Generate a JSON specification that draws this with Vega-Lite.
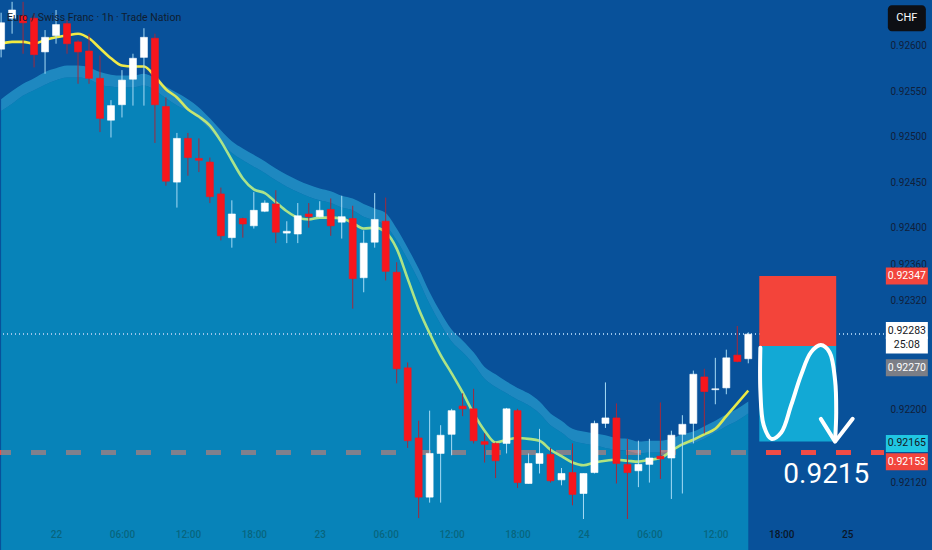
{
  "$schema": "https://vega.github.io/schema/vega-lite/v6.json",
  "width": 884,
  "height": 519,
  "autosize": {"type": "none"},
  "padding": {"left": 0, "top": 0, "right": 48, "bottom": 31},
  "background": "#08519a",
  "title": {
    "text": "Euro / Swiss Franc · 1h · Trade Nation",
    "anchor": "start",
    "frame": "group",
    "orient": "top",
    "offset": -23,
    "dx": 7,
    "fontSize": 10.5,
    "fontWeight": "normal",
    "color": "#101d30"
  },
  "data": {
    "values": [
      {"t": -5, "open": 0.92596, "high": 0.92636, "low": 0.92587, "close": 0.92625, "ma": 0.92602, "upper": 0.92541, "inner": 0.92528},
      {"t": -4, "open": 0.9263, "high": 0.92648, "low": 0.92613, "close": 0.92639, "ma": 0.92604, "upper": 0.9255, "inner": 0.92536},
      {"t": -3, "open": 0.92633, "high": 0.92648, "low": 0.92591, "close": 0.92625, "ma": 0.92604, "upper": 0.92558, "inner": 0.92545},
      {"t": -2, "open": 0.9263, "high": 0.92635, "low": 0.92576, "close": 0.9259, "ma": 0.92602, "upper": 0.92564, "inner": 0.92551},
      {"t": -1, "open": 0.92593, "high": 0.92617, "low": 0.92569, "close": 0.92609, "ma": 0.92606, "upper": 0.92571, "inner": 0.92557},
      {"t": 0, "open": 0.92611, "high": 0.92639, "low": 0.92602, "close": 0.92623, "ma": 0.92609, "upper": 0.92575, "inner": 0.92562},
      {"t": 1, "open": 0.92624, "high": 0.92628, "low": 0.92591, "close": 0.92602, "ma": 0.92611, "upper": 0.92578, "inner": 0.92565},
      {"t": 2, "open": 0.92604, "high": 0.92606, "low": 0.92558, "close": 0.92593, "ma": 0.92613, "upper": 0.92578, "inner": 0.92565},
      {"t": 3, "open": 0.92594, "high": 0.92613, "low": 0.92558, "close": 0.92564, "ma": 0.92608, "upper": 0.92576, "inner": 0.92563},
      {"t": 4, "open": 0.92564, "high": 0.92589, "low": 0.92505, "close": 0.9252, "ma": 0.92597, "upper": 0.92571, "inner": 0.92557},
      {"t": 5, "open": 0.92518, "high": 0.9254, "low": 0.92499, "close": 0.92534, "ma": 0.92586, "upper": 0.92568, "inner": 0.92555},
      {"t": 6, "open": 0.92535, "high": 0.92573, "low": 0.92521, "close": 0.92562, "ma": 0.92578, "upper": 0.92567, "inner": 0.92554},
      {"t": 7, "open": 0.92563, "high": 0.92591, "low": 0.92534, "close": 0.92586, "ma": 0.92577, "upper": 0.92567, "inner": 0.92554},
      {"t": 8, "open": 0.92587, "high": 0.92619, "low": 0.92534, "close": 0.92609, "ma": 0.92577, "upper": 0.92569, "inner": 0.92556},
      {"t": 9, "open": 0.92608, "high": 0.92613, "low": 0.92493, "close": 0.92535, "ma": 0.92566, "upper": 0.92564, "inner": 0.92551},
      {"t": 10, "open": 0.92533, "high": 0.92543, "low": 0.92446, "close": 0.92451, "ma": 0.92552, "upper": 0.92555, "inner": 0.92542},
      {"t": 11, "open": 0.9245, "high": 0.92504, "low": 0.92422, "close": 0.92498, "ma": 0.92543, "upper": 0.92548, "inner": 0.92534},
      {"t": 12, "open": 0.92498, "high": 0.92504, "low": 0.92457, "close": 0.92477, "ma": 0.9253, "upper": 0.92541, "inner": 0.92528},
      {"t": 13, "open": 0.92476, "high": 0.92498, "low": 0.92461, "close": 0.92474, "ma": 0.92522, "upper": 0.92532, "inner": 0.92519},
      {"t": 14, "open": 0.92472, "high": 0.92477, "low": 0.92427, "close": 0.92434, "ma": 0.92512, "upper": 0.9252, "inner": 0.92507},
      {"t": 15, "open": 0.92437, "high": 0.92444, "low": 0.92386, "close": 0.92391, "ma": 0.92495, "upper": 0.92507, "inner": 0.92494},
      {"t": 16, "open": 0.92389, "high": 0.9243, "low": 0.92378, "close": 0.92415, "ma": 0.92474, "upper": 0.92495, "inner": 0.92482},
      {"t": 17, "open": 0.9241, "high": 0.92411, "low": 0.92389, "close": 0.92404, "ma": 0.92454, "upper": 0.92487, "inner": 0.92474},
      {"t": 18, "open": 0.92402, "high": 0.92439, "low": 0.92399, "close": 0.92419, "ma": 0.92442, "upper": 0.9248, "inner": 0.92467},
      {"t": 19, "open": 0.92418, "high": 0.9243, "low": 0.92417, "close": 0.92427, "ma": 0.92438, "upper": 0.92473, "inner": 0.9246},
      {"t": 20, "open": 0.92426, "high": 0.92441, "low": 0.92383, "close": 0.92395, "ma": 0.92428, "upper": 0.92465, "inner": 0.92452},
      {"t": 21, "open": 0.92394, "high": 0.92407, "low": 0.92383, "close": 0.92396, "ma": 0.92418, "upper": 0.92458, "inner": 0.92445},
      {"t": 22, "open": 0.92393, "high": 0.92427, "low": 0.92383, "close": 0.92413, "ma": 0.92411, "upper": 0.92452, "inner": 0.92439},
      {"t": 23, "open": 0.92415, "high": 0.92427, "low": 0.924, "close": 0.92412, "ma": 0.92409, "upper": 0.92447, "inner": 0.92434},
      {"t": 24, "open": 0.92412, "high": 0.92429, "low": 0.92411, "close": 0.92419, "ma": 0.92411, "upper": 0.92443, "inner": 0.9243},
      {"t": 25, "open": 0.9242, "high": 0.92432, "low": 0.92391, "close": 0.92402, "ma": 0.92411, "upper": 0.9244, "inner": 0.92427},
      {"t": 26, "open": 0.92406, "high": 0.92435, "low": 0.92388, "close": 0.92412, "ma": 0.9241, "upper": 0.92435, "inner": 0.92422},
      {"t": 27, "open": 0.9241, "high": 0.92424, "low": 0.92311, "close": 0.92344, "ma": 0.92405, "upper": 0.92432, "inner": 0.92419},
      {"t": 28, "open": 0.92345, "high": 0.92397, "low": 0.92329, "close": 0.92383, "ma": 0.92399, "upper": 0.92426, "inner": 0.92412},
      {"t": 29, "open": 0.92384, "high": 0.92438, "low": 0.92378, "close": 0.92409, "ma": 0.924, "upper": 0.92421, "inner": 0.92408},
      {"t": 30, "open": 0.92407, "high": 0.92433, "low": 0.92342, "close": 0.92352, "ma": 0.92395, "upper": 0.92416, "inner": 0.92402},
      {"t": 31, "open": 0.92351, "high": 0.92362, "low": 0.92229, "close": 0.92245, "ma": 0.92377, "upper": 0.92399, "inner": 0.92386},
      {"t": 32, "open": 0.92246, "high": 0.92252, "low": 0.92158, "close": 0.92166, "ma": 0.92344, "upper": 0.92378, "inner": 0.92365},
      {"t": 33, "open": 0.92169, "high": 0.92188, "low": 0.92081, "close": 0.92104, "ma": 0.92311, "upper": 0.92355, "inner": 0.92342},
      {"t": 34, "open": 0.92104, "high": 0.92199, "low": 0.92098, "close": 0.92152, "ma": 0.92284, "upper": 0.92329, "inner": 0.92316},
      {"t": 35, "open": 0.92152, "high": 0.92183, "low": 0.92098, "close": 0.92172, "ma": 0.9226, "upper": 0.92307, "inner": 0.92294},
      {"t": 36, "open": 0.92173, "high": 0.92201, "low": 0.9215, "close": 0.92199, "ma": 0.9224, "upper": 0.92288, "inner": 0.92275},
      {"t": 37, "open": 0.92204, "high": 0.92218, "low": 0.92193, "close": 0.92201, "ma": 0.92219, "upper": 0.92276, "inner": 0.92263},
      {"t": 38, "open": 0.92201, "high": 0.92223, "low": 0.92163, "close": 0.92166, "ma": 0.92196, "upper": 0.92263, "inner": 0.9225},
      {"t": 39, "open": 0.92165, "high": 0.92174, "low": 0.92142, "close": 0.92162, "ma": 0.92177, "upper": 0.92247, "inner": 0.92234},
      {"t": 40, "open": 0.92163, "high": 0.92164, "low": 0.92125, "close": 0.92144, "ma": 0.92164, "upper": 0.92239, "inner": 0.92225},
      {"t": 41, "open": 0.92163, "high": 0.92202, "low": 0.92152, "close": 0.92201, "ma": 0.92167, "upper": 0.92231, "inner": 0.92218},
      {"t": 42, "open": 0.92199, "high": 0.92201, "low": 0.92114, "close": 0.9212, "ma": 0.92169, "upper": 0.92224, "inner": 0.92211},
      {"t": 43, "open": 0.92119, "high": 0.92152, "low": 0.92119, "close": 0.92141, "ma": 0.92168, "upper": 0.92218, "inner": 0.92205},
      {"t": 44, "open": 0.92141, "high": 0.92179, "low": 0.9213, "close": 0.92152, "ma": 0.92166, "upper": 0.92209, "inner": 0.92196},
      {"t": 45, "open": 0.92151, "high": 0.92158, "low": 0.9212, "close": 0.92122, "ma": 0.92156, "upper": 0.92196, "inner": 0.92183},
      {"t": 46, "open": 0.92123, "high": 0.92136, "low": 0.92117, "close": 0.9213, "ma": 0.92149, "upper": 0.92188, "inner": 0.92175},
      {"t": 47, "open": 0.92131, "high": 0.92163, "low": 0.92095, "close": 0.92107, "ma": 0.92142, "upper": 0.92179, "inner": 0.92166},
      {"t": 48, "open": 0.92108, "high": 0.9213, "low": 0.9208, "close": 0.9213, "ma": 0.92139, "upper": 0.92176, "inner": 0.92163},
      {"t": 49, "open": 0.92131, "high": 0.92188, "low": 0.9213, "close": 0.92185, "ma": 0.92142, "upper": 0.92174, "inner": 0.92161},
      {"t": 50, "open": 0.92185, "high": 0.9223, "low": 0.9218, "close": 0.92191, "ma": 0.92144, "upper": 0.92172, "inner": 0.92158},
      {"t": 51, "open": 0.92191, "high": 0.92207, "low": 0.92119, "close": 0.92141, "ma": 0.92145, "upper": 0.92169, "inner": 0.92156},
      {"t": 52, "open": 0.9214, "high": 0.92168, "low": 0.9208, "close": 0.92131, "ma": 0.92144, "upper": 0.92168, "inner": 0.92155},
      {"t": 53, "open": 0.92133, "high": 0.92166, "low": 0.92115, "close": 0.9214, "ma": 0.92143, "upper": 0.92165, "inner": 0.92152},
      {"t": 54, "open": 0.9214, "high": 0.92168, "low": 0.9212, "close": 0.92147, "ma": 0.92145, "upper": 0.92166, "inner": 0.92153},
      {"t": 55, "open": 0.92149, "high": 0.92208, "low": 0.92124, "close": 0.92146, "ma": 0.92147, "upper": 0.92166, "inner": 0.92153},
      {"t": 56, "open": 0.92147, "high": 0.92177, "low": 0.92102, "close": 0.92172, "ma": 0.92155, "upper": 0.92168, "inner": 0.92155},
      {"t": 57, "open": 0.92173, "high": 0.92194, "low": 0.92108, "close": 0.92184, "ma": 0.92162, "upper": 0.92173, "inner": 0.9216},
      {"t": 58, "open": 0.92185, "high": 0.92243, "low": 0.92163, "close": 0.92239, "ma": 0.92167, "upper": 0.92176, "inner": 0.92163},
      {"t": 59, "open": 0.92236, "high": 0.92245, "low": 0.92174, "close": 0.9222, "ma": 0.92173, "upper": 0.92182, "inner": 0.92168},
      {"t": 60, "open": 0.92222, "high": 0.92257, "low": 0.92206, "close": 0.92223, "ma": 0.92179, "upper": 0.92188, "inner": 0.92175},
      {"t": 61, "open": 0.92224, "high": 0.92266, "low": 0.92217, "close": 0.92257, "ma": 0.92193, "upper": 0.92195, "inner": 0.92182},
      {"t": 62, "open": 0.9226, "high": 0.92292, "low": 0.92252, "close": 0.92253, "ma": 0.92207, "upper": 0.92201, "inner": 0.92188},
      {"t": 63, "open": 0.92256, "high": 0.92285, "low": 0.92251, "close": 0.92283, "ma": 0.92221, "upper": 0.92209, "inner": 0.92196}
    ]
  },
  "layer": [
    {
      "mark": {"type": "rule", "color": "#f04b46", "strokeWidth": 3.5, "strokeDash": [15, 20], "strokeDashOffset": 2},
      "encoding": {
        "y": {"datum": 0.92153, "type": "quantitative", "scale": {"domain": [0.9208, 0.9265], "nice": false, "zero": false}}
      }
    },
    {
      "mark": {"type": "area", "color": "#3fd3f6", "opacity": 0.42, "interpolate": "monotone"},
      "encoding": {
        "x": {"field": "t", "type": "quantitative", "scale": {"domain": [-5.1, 75.35], "nice": false, "zero": false}, "title": null},
        "y": {"field": "upper", "type": "quantitative", "scale": {"domain": [0.9208, 0.9265], "nice": false, "zero": false}, "title": null},
        "y2": {"field": "inner"}
      }
    },
    {
      "mark": {"type": "area", "color": "#07bbdc", "opacity": 0.48, "interpolate": "monotone"},
      "encoding": {
        "x": {"field": "t", "type": "quantitative", "scale": {"domain": [-5.1, 75.35], "nice": false, "zero": false}, "title": null},
        "y": {"field": "inner", "type": "quantitative", "scale": {"domain": [0.9208, 0.9265], "nice": false, "zero": false}, "title": null}
      }
    },
    {
      "mark": {"type": "rule", "color": "#9cc4ea", "opacity": 0.7, "strokeWidth": 1, "strokeDash": [1, 3]},
      "encoding": {
        "y": {"datum": 0.92283, "type": "quantitative", "scale": {"domain": [0.9208, 0.9265], "nice": false, "zero": false}}
      }
    },
    {
      "mark": {
        "type": "line",
        "strokeWidth": 2.6,
        "interpolate": "monotone",
        "stroke": {
          "gradient": "linear", "x1": 0, "y1": 0, "x2": 1, "y2": 0,
          "stops": [
            {"offset": 0, "color": "#f3ea3e"},
            {"offset": 0.2, "color": "#eeea4c"},
            {"offset": 0.3, "color": "#a9e38c"},
            {"offset": 0.9, "color": "#b2e47e"},
            {"offset": 1, "color": "#f1e940"}
          ]
        }
      },
      "encoding": {
        "x": {"field": "t", "type": "quantitative", "scale": {"domain": [-5.1, 75.35], "nice": false, "zero": false}, "title": null},
        "y": {"field": "ma", "type": "quantitative", "scale": {"domain": [0.9208, 0.9265], "nice": false, "zero": false}, "title": null}
      }
    },
    {
      "mark": {"type": "rule", "strokeWidth": 1},
      "encoding": {
        "x": {"field": "t", "type": "quantitative", "scale": {"domain": [-5.1, 75.35], "nice": false, "zero": false}, "title": null},
        "y": {"field": "low", "type": "quantitative", "scale": {"domain": [0.9208, 0.9265], "nice": false, "zero": false}, "title": null},
        "y2": {"field": "high"},
        "color": {"condition": {"test": "datum.close < datum.open", "value": "#a3283c"}, "value": "#a6dbf5"}
      }
    },
    {
      "mark": {"type": "bar", "width": 7, "strokeWidth": 0.6},
      "encoding": {
        "x": {
          "field": "t", "type": "quantitative",
          "scale": {"domain": [-5.1, 75.35], "nice": false, "zero": false},
          "title": null,
          "axis": {
            "orient": "bottom",
            "values": [0, 6, 12, 18, 24, 30, 36, 42, 48, 54, 60, 66, 72],
            "labelExpr": "datum.value % 24 == 0 ? '' + (22 + datum.value / 24) : ((datum.value % 24) < 10 ? '0' : '') + (datum.value % 24) + ':00'",
            "domain": false, "ticks": false, "grid": false,
            "labelPadding": 10, "labelFontSize": 10, "labelFontWeight": 500, "labelColor": "#0a1628", "labelFlush": false
          }
        },
        "y": {
          "field": "open", "type": "quantitative",
          "scale": {"domain": [0.9208, 0.9265], "nice": false, "zero": false},
          "title": null,
          "axis": {
            "orient": "right",
            "values": [0.926, 0.9255, 0.925, 0.9245, 0.924, 0.9236, 0.9232, 0.922, 0.9212],
            "format": ".5f",
            "domain": false, "ticks": false, "grid": false,
            "labelPadding": 6, "labelFontSize": 10, "labelColor": "#10203a"
          }
        },
        "y2": {"field": "close"},
        "fill": {"condition": {"test": "datum.close < datum.open", "value": "#f7161c"}, "value": "#ffffff"},
        "stroke": {"condition": {"test": "datum.close < datum.open", "value": "#f7161c"}, "value": "#ffffff"}
      }
    },
    {
      "data": {
        "values": [
          {"zone": "stop", "from": 64, "to": 71, "lo": 0.9227, "hi": 0.92347},
          {"zone": "target", "from": 64, "to": 71, "lo": 0.92165, "hi": 0.9227}
        ]
      },
      "mark": {"type": "rect"},
      "encoding": {
        "x": {"field": "from", "type": "quantitative", "scale": {"domain": [-5.1, 75.35], "nice": false, "zero": false}, "title": null},
        "x2": {"field": "to"},
        "y": {"field": "lo", "type": "quantitative", "scale": {"domain": [0.9208, 0.9265], "nice": false, "zero": false}, "title": null},
        "y2": {"field": "hi"},
        "color": {"field": "zone", "type": "nominal", "scale": {"domain": ["stop", "target"], "range": ["#f3443a", "#12a9d5"]}, "legend": null}
      }
    },
    {
      "data": {
        "values": [
          {"i": 1, "t": 64.1, "p": 0.92268},
          {"i": 2, "t": 64.1, "p": 0.92221},
          {"i": 3, "t": 64.4, "p": 0.92183},
          {"i": 4, "t": 65.1, "p": 0.92168},
          {"i": 5, "t": 66.0, "p": 0.92175},
          {"i": 6, "t": 66.9, "p": 0.92205},
          {"i": 7, "t": 67.8, "p": 0.92238},
          {"i": 8, "t": 68.7, "p": 0.92263},
          {"i": 9, "t": 69.6, "p": 0.92271},
          {"i": 10, "t": 70.4, "p": 0.92263},
          {"i": 11, "t": 70.9, "p": 0.92232},
          {"i": 12, "t": 71.0, "p": 0.92197},
          {"i": 13, "t": 70.9, "p": 0.92166}
        ]
      },
      "mark": {"type": "line", "color": "#ffffff", "strokeWidth": 4, "strokeCap": "round", "strokeJoin": "round", "interpolate": "catmull-rom"},
      "encoding": {
        "x": {"field": "t", "type": "quantitative", "scale": {"domain": [-5.1, 75.35], "nice": false, "zero": false}, "title": null},
        "y": {"field": "p", "type": "quantitative", "scale": {"domain": [0.9208, 0.9265], "nice": false, "zero": false}, "title": null},
        "order": {"field": "i"}
      }
    },
    {
      "data": {
        "values": [
          {"i": 1, "t": 69.6, "p": 0.9219},
          {"i": 2, "t": 70.9, "p": 0.92165},
          {"i": 3, "t": 72.5, "p": 0.9219}
        ]
      },
      "mark": {"type": "line", "color": "#ffffff", "strokeWidth": 4, "strokeCap": "round", "strokeJoin": "round"},
      "encoding": {
        "x": {"field": "t", "type": "quantitative", "scale": {"domain": [-5.1, 75.35], "nice": false, "zero": false}, "title": null},
        "y": {"field": "p", "type": "quantitative", "scale": {"domain": [0.9208, 0.9265], "nice": false, "zero": false}, "title": null},
        "order": {"field": "i"}
      }
    },
    {
      "data": {"values": [{"t": 70.1, "p": 0.92119, "label": "0.9215"}]},
      "mark": {"type": "text", "color": "#ffffff", "fontSize": 28, "baseline": "alphabetic", "align": "center"},
      "encoding": {
        "x": {"field": "t", "type": "quantitative", "scale": {"domain": [-5.1, 75.35], "nice": false, "zero": false}, "title": null},
        "y": {"field": "p", "type": "quantitative", "scale": {"domain": [0.9208, 0.9265], "nice": false, "zero": false}, "title": null},
        "text": {"field": "label"}
      }
    },
    {
      "data": {
        "values": [
          {"tag": "0.92347", "at": 0.92347, "kind": "stop"},
          {"tag": "0.92283", "at": 0.92287, "kind": "last"},
          {"tag": "25:08", "at": 0.92271, "kind": "last"},
          {"tag": "0.92270", "at": 0.92246, "kind": "entry"},
          {"tag": "0.92165", "at": 0.92163, "kind": "target"},
          {"tag": "0.92153", "at": 0.92143, "kind": "line"}
        ]
      },
      "layer": [
        {
          "mark": {"type": "rect", "width": 42, "height": 17, "clip": false},
          "encoding": {
            "x": {"datum": 77.43, "type": "quantitative", "scale": {"domain": [-5.1, 75.35], "nice": false, "zero": false}},
            "y": {"field": "at", "type": "quantitative", "scale": {"domain": [0.9208, 0.9265], "nice": false, "zero": false}, "title": null},
            "color": {"field": "kind", "type": "nominal", "scale": {"domain": ["stop", "last", "entry", "target", "line"], "range": ["#f2453d", "#ffffff", "#7b7e86", "#20c6e2", "#f2453d"]}, "legend": null}
          }
        },
        {
          "mark": {"type": "text", "fontSize": 10.5, "align": "center", "baseline": "middle", "clip": false},
          "encoding": {
            "x": {"datum": 77.43, "type": "quantitative", "scale": {"domain": [-5.1, 75.35], "nice": false, "zero": false}},
            "y": {"field": "at", "type": "quantitative", "scale": {"domain": [0.9208, 0.9265], "nice": false, "zero": false}, "title": null},
            "text": {"field": "tag"},
            "fill": {"field": "kind", "type": "nominal", "scale": {"domain": ["stop", "last", "entry", "target", "line"], "range": ["#ffffff", "#131722", "#ffffff", "#131722", "#ffffff"]}, "legend": null}
          }
        }
      ]
    },
    {
      "data": {"values": [{"tag": "CHF", "at": 0.9263}]},
      "layer": [
        {
          "mark": {"type": "rect", "width": 38, "height": 26, "cornerRadius": 4, "color": "#0d0f14"},
          "encoding": {
            "x": {"datum": 77.43, "type": "quantitative", "scale": {"domain": [-5.1, 75.35], "nice": false, "zero": false}},
            "y": {"field": "at", "type": "quantitative", "scale": {"domain": [0.9208, 0.9265], "nice": false, "zero": false}, "title": null}
          }
        },
        {
          "mark": {"type": "text", "fontSize": 11, "align": "center", "baseline": "middle", "color": "#ffffff"},
          "encoding": {
            "x": {"datum": 77.43, "type": "quantitative", "scale": {"domain": [-5.1, 75.35], "nice": false, "zero": false}},
            "y": {"field": "at", "type": "quantitative", "scale": {"domain": [0.9208, 0.9265], "nice": false, "zero": false}, "title": null},
            "text": {"field": "tag"}
          }
        }
      ]
    }
  ],
  "resolve": {"scale": {"color": "independent", "fill": "independent"}},
  "config": {
    "view": {"stroke": null},
    "scale": {"continuousPadding": 0},
    "font": "Roboto"
  }
}
